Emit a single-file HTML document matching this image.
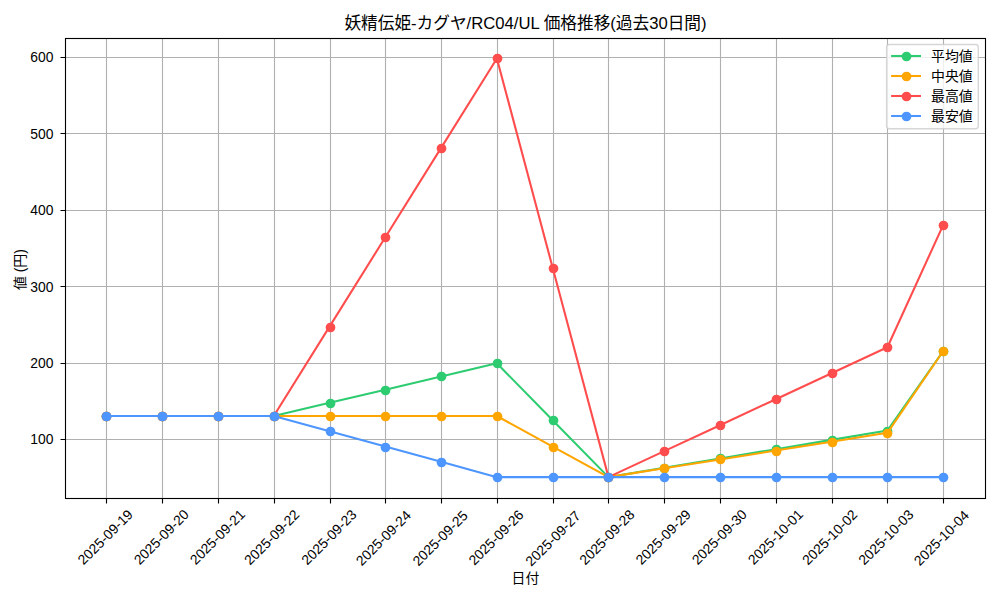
<!DOCTYPE html><html><head><meta charset="utf-8"><title>chart</title><style>html,body{margin:0;padding:0;background:#fff;font-family:"Liberation Sans",sans-serif}svg{display:block}</style></head><body><svg width="1000" height="600" viewBox="0 0 1000 600"><rect width="1000" height="600" fill="#fff"/><path d="M106.5 38.5V498.5M162.5 38.5V498.5M218.5 38.5V498.5M274.5 38.5V498.5M330.5 38.5V498.5M385.5 38.5V498.5M441.5 38.5V498.5M497.5 38.5V498.5M553.5 38.5V498.5M608.5 38.5V498.5M664.5 38.5V498.5M720.5 38.5V498.5M776.5 38.5V498.5M832.5 38.5V498.5M887.5 38.5V498.5M943.5 38.5V498.5M65.5 439.5H985.5M65.5 363.5H985.5M65.5 286.5H985.5M65.5 210.5H985.5M65.5 133.5H985.5M65.5 57.5H985.5" stroke="#b0b0b0" stroke-width="1.11" fill="none"/><polyline points="106.4,416.02 162.18,416.02 217.97,416.02 273.75,416.02 329.54,402.84 385.32,389.66 441.11,376.48 496.89,363.3 552.68,420.22 608.46,477.14 664.25,467.82 720.03,458.5 775.82,449.18 831.6,439.86 887.39,430.54 943.17,351.08" fill="none" stroke="#2ecc71" stroke-width="2.08" stroke-linejoin="round" stroke-linecap="square"/><g fill="#2ecc71"><circle cx="106.5" cy="416.5" r="4.86"/><circle cx="162.5" cy="416.5" r="4.86"/><circle cx="218.5" cy="416.5" r="4.86"/><circle cx="274.5" cy="416.5" r="4.86"/><circle cx="330.5" cy="403.5" r="4.86"/><circle cx="385.5" cy="390.5" r="4.86"/><circle cx="441.5" cy="376.5" r="4.86"/><circle cx="497.5" cy="363.5" r="4.86"/><circle cx="553.5" cy="420.5" r="4.86"/><circle cx="608.5" cy="477.5" r="4.86"/><circle cx="664.5" cy="468.5" r="4.86"/><circle cx="720.5" cy="458.5" r="4.86"/><circle cx="776.5" cy="449.5" r="4.86"/><circle cx="832.5" cy="440.5" r="4.86"/><circle cx="887.5" cy="431.5" r="4.86"/><circle cx="943.5" cy="351.5" r="4.86"/></g><polyline points="106.4,416.02 162.18,416.02 217.97,416.02 273.75,416.02 329.54,416.02 385.32,416.02 441.11,416.02 496.89,416.02 552.68,446.58 608.46,477.14 664.25,468.28 720.03,459.42 775.82,450.55 831.6,441.69 887.39,432.83 943.17,351.08" fill="none" stroke="#ffa500" stroke-width="2.08" stroke-linejoin="round" stroke-linecap="square"/><g fill="#ffa500"><circle cx="106.5" cy="416.5" r="4.86"/><circle cx="162.5" cy="416.5" r="4.86"/><circle cx="218.5" cy="416.5" r="4.86"/><circle cx="274.5" cy="416.5" r="4.86"/><circle cx="330.5" cy="416.5" r="4.86"/><circle cx="385.5" cy="416.5" r="4.86"/><circle cx="441.5" cy="416.5" r="4.86"/><circle cx="497.5" cy="416.5" r="4.86"/><circle cx="553.5" cy="447.5" r="4.86"/><circle cx="608.5" cy="477.5" r="4.86"/><circle cx="664.5" cy="468.5" r="4.86"/><circle cx="720.5" cy="459.5" r="4.86"/><circle cx="776.5" cy="451.5" r="4.86"/><circle cx="832.5" cy="442.5" r="4.86"/><circle cx="887.5" cy="433.5" r="4.86"/><circle cx="943.5" cy="351.5" r="4.86"/></g><polyline points="106.4,416.02 162.18,416.02 217.97,416.02 273.75,416.02 329.54,326.63 385.32,237.24 441.11,147.86 496.89,58.47 552.68,267.8 608.46,477.14 664.25,451.16 720.03,425.19 775.82,399.21 831.6,373.24 887.39,347.26 943.17,225.02" fill="none" stroke="#ff4d4d" stroke-width="2.08" stroke-linejoin="round" stroke-linecap="square"/><g fill="#ff4d4d"><circle cx="106.5" cy="416.5" r="4.86"/><circle cx="162.5" cy="416.5" r="4.86"/><circle cx="218.5" cy="416.5" r="4.86"/><circle cx="274.5" cy="416.5" r="4.86"/><circle cx="330.5" cy="327.5" r="4.86"/><circle cx="385.5" cy="237.5" r="4.86"/><circle cx="441.5" cy="148.5" r="4.86"/><circle cx="497.5" cy="58.5" r="4.86"/><circle cx="553.5" cy="268.5" r="4.86"/><circle cx="608.5" cy="477.5" r="4.86"/><circle cx="664.5" cy="451.5" r="4.86"/><circle cx="720.5" cy="425.5" r="4.86"/><circle cx="776.5" cy="399.5" r="4.86"/><circle cx="832.5" cy="373.5" r="4.86"/><circle cx="887.5" cy="347.5" r="4.86"/><circle cx="943.5" cy="225.5" r="4.86"/></g><polyline points="106.4,416.02 162.18,416.02 217.97,416.02 273.75,416.02 329.54,431.3 385.32,446.58 441.11,461.86 496.89,477.14 552.68,477.14 608.46,477.14 664.25,477.14 720.03,477.14 775.82,477.14 831.6,477.14 887.39,477.14 943.17,477.14" fill="none" stroke="#4d96ff" stroke-width="2.08" stroke-linejoin="round" stroke-linecap="square"/><g fill="#4d96ff"><circle cx="106.5" cy="416.5" r="4.86"/><circle cx="162.5" cy="416.5" r="4.86"/><circle cx="218.5" cy="416.5" r="4.86"/><circle cx="274.5" cy="416.5" r="4.86"/><circle cx="330.5" cy="431.5" r="4.86"/><circle cx="385.5" cy="447.5" r="4.86"/><circle cx="441.5" cy="462.5" r="4.86"/><circle cx="497.5" cy="477.5" r="4.86"/><circle cx="553.5" cy="477.5" r="4.86"/><circle cx="608.5" cy="477.5" r="4.86"/><circle cx="664.5" cy="477.5" r="4.86"/><circle cx="720.5" cy="477.5" r="4.86"/><circle cx="776.5" cy="477.5" r="4.86"/><circle cx="832.5" cy="477.5" r="4.86"/><circle cx="887.5" cy="477.5" r="4.86"/><circle cx="943.5" cy="477.5" r="4.86"/></g><path d="M106.5 498.5v5M162.5 498.5v5M218.5 498.5v5M274.5 498.5v5M330.5 498.5v5M385.5 498.5v5M441.5 498.5v5M497.5 498.5v5M553.5 498.5v5M608.5 498.5v5M664.5 498.5v5M720.5 498.5v5M776.5 498.5v5M832.5 498.5v5M887.5 498.5v5M943.5 498.5v5M65.5 439.5h-5M65.5 363.5h-5M65.5 286.5h-5M65.5 210.5h-5M65.5 133.5h-5M65.5 57.5h-5" stroke="#000" stroke-width="1.11" fill="none"/><rect x="65.5" y="38.5" width="920" height="460" fill="none" stroke="#000" stroke-width="1.11"/><g font-family="&quot;Liberation Sans&quot;, &quot;Noto Sans CJK JP&quot;, sans-serif" fill="#000"><text x="525.5" y="29" font-size="16.67" text-anchor="middle">妖精伝姫-カグヤ/RC04/UL 価格推移(過去30日間)</text><g font-size="13.89" text-anchor="end"><text x="53.5" y="444">100</text><text x="53.5" y="368">200</text><text x="53.5" y="292">300</text><text x="53.5" y="215">400</text><text x="53.5" y="139">500</text><text x="53.5" y="62">600</text></g><g font-size="13.89" text-anchor="middle"><text transform="translate(84.52 564.71) rotate(-45)" x="34.2" y="0">2025-09-19</text><text transform="translate(140.54 564.67) rotate(-45)" x="34.2" y="0">2025-09-20</text><text transform="translate(196.6 564.61) rotate(-45)" x="34.2" y="0">2025-09-21</text><text transform="translate(251.02 564.93) rotate(-45)" x="34.2" y="0">2025-09-22</text><text transform="translate(308.19 564.93) rotate(-45)" x="34.2" y="0">2025-09-23</text><text transform="translate(362.63 565.58) rotate(-45)" x="34.2" y="0">2025-09-24</text><text transform="translate(419.32 565.84) rotate(-45)" x="34.2" y="0">2025-09-25</text><text transform="translate(475.29 565.11) rotate(-45)" x="34.2" y="0">2025-09-26</text><text transform="translate(532.25 566.14) rotate(-45)" x="34.2" y="0">2025-09-27</text><text transform="translate(586.15 564.92) rotate(-45)" x="34.2" y="0">2025-09-28</text><text transform="translate(642.52 564.71) rotate(-45)" x="34.2" y="0">2025-09-29</text><text transform="translate(698.54 564.67) rotate(-45)" x="34.2" y="0">2025-09-30</text><text transform="translate(754.6 564.61) rotate(-45)" x="34.2" y="0">2025-10-01</text><text transform="translate(809.02 564.93) rotate(-45)" x="34.2" y="0">2025-10-02</text><text transform="translate(865.19 564.93) rotate(-45)" x="34.2" y="0">2025-10-03</text><text transform="translate(920.63 565.58) rotate(-45)" x="34.2" y="0">2025-10-04</text></g><text x="525.5" y="583" font-size="13.89" text-anchor="middle">日付</text><text transform="translate(25 292.05) rotate(-90)" x="22.5" y="0" font-size="13.89" text-anchor="middle">値 (円)</text></g><rect x="886.6" y="44.55" width="91.7" height="84.15" rx="2.78" fill="#fff" fill-opacity="0.8" stroke="#ccc" stroke-opacity="0.8" stroke-width="1.39"/><path d="M892.16 56h27.78" stroke="#2ecc71" stroke-width="2.08" stroke-linecap="square" fill="none"/><circle cx="906.5" cy="56.5" r="4.86" fill="#2ecc71"/><text x="931" y="61" font-size="13.89" fill="#000" font-family="&quot;Liberation Sans&quot;, &quot;Noto Sans CJK JP&quot;, sans-serif">平均値</text><path d="M892.16 76h27.78" stroke="#ffa500" stroke-width="2.08" stroke-linecap="square" fill="none"/><circle cx="906.5" cy="76.5" r="4.86" fill="#ffa500"/><text x="931" y="81" font-size="13.89" fill="#000" font-family="&quot;Liberation Sans&quot;, &quot;Noto Sans CJK JP&quot;, sans-serif">中央値</text><path d="M892.16 96h27.78" stroke="#ff4d4d" stroke-width="2.08" stroke-linecap="square" fill="none"/><circle cx="906.5" cy="96.5" r="4.86" fill="#ff4d4d"/><text x="931" y="101" font-size="13.89" fill="#000" font-family="&quot;Liberation Sans&quot;, &quot;Noto Sans CJK JP&quot;, sans-serif">最高値</text><path d="M892.16 116h27.78" stroke="#4d96ff" stroke-width="2.08" stroke-linecap="square" fill="none"/><circle cx="906.5" cy="116.5" r="4.86" fill="#4d96ff"/><text x="931" y="121" font-size="13.89" fill="#000" font-family="&quot;Liberation Sans&quot;, &quot;Noto Sans CJK JP&quot;, sans-serif">最安値</text></svg></body></html>
